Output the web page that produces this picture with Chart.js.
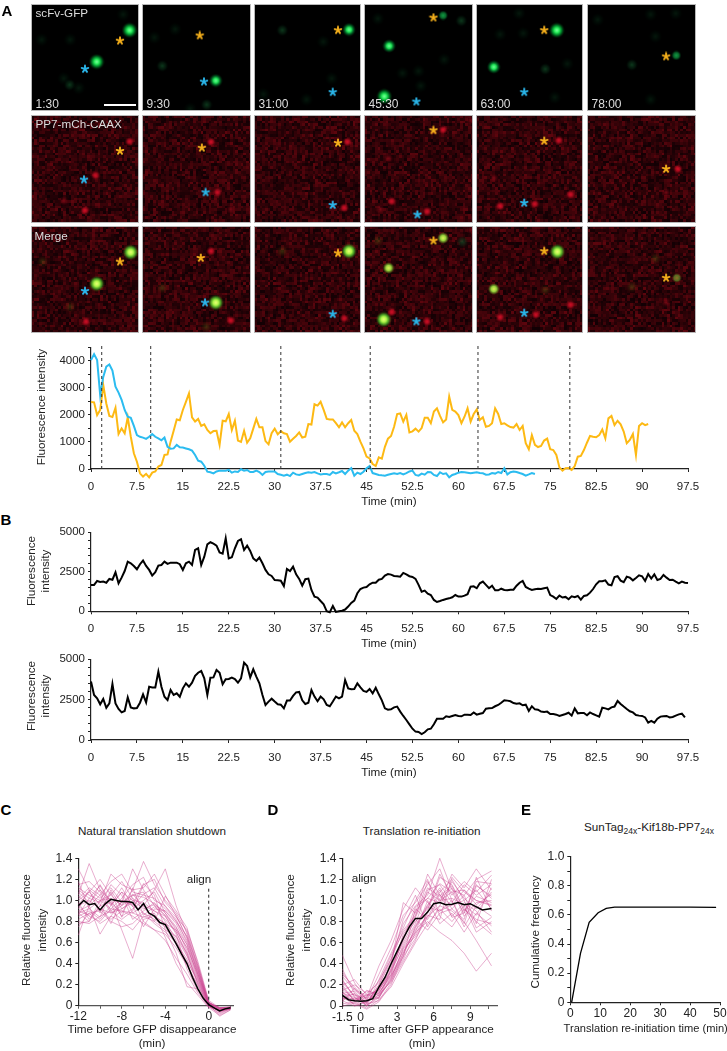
<!DOCTYPE html>
<html>
<head>
<meta charset="utf-8">
<title>Translation traces</title>
<script src="https://cdn.jsdelivr.net/npm/chart.js@4"></script>
<style>
  html, body { margin: 0; padding: 0; background: #fff; }
  #page { position: relative; width: 727px; height: 1051px; overflow: hidden; font-family: "Liberation Sans", Arial, sans-serif; color: #222; }
  #page canvas { position: absolute; }
  .txt { position: absolute; white-space: nowrap; font-size: 11.7px; line-height: 1; z-index: 5; }
  .txt sub { font-size: 8.5px; vertical-align: -3px; line-height: 0; }
  .letter { font-weight: bold; font-size: 15px; color: #000; }
</style>
</head>
<body>
<div id="page"></div>
<script>
// ---------------- Data ----------------
const sampleStep = 0.5;

const yellowTrace = [2470,2460,1990,2180,3100,2420,1960,1920,2260,1290,1500,1320,1910,1190,580,270,-160,-280,-180,-310,-135,-90,90,150,520,540,1010,1410,1830,1800,2180,2480,2790,1910,1750,1850,1590,1650,1440,1320,1400,1410,890,1780,1760,2030,1440,1780,1050,1000,1410,970,1130,1490,1850,1540,1540,1030,910,1320,1490,1280,1400,1320,1290,1010,1120,1220,1350,1160,1190,1660,1640,2390,2340,2480,2180,1850,1830,1830,1690,1540,1720,1540,1690,1810,1410,1290,1010,760,455,390,
  185,110,430,380,820,1120,1220,1560,2030,2050,1750,2000,1350,1390,1490,1380,1510,1890,1890,1690,2120,2240,1960,1720,1830,2670,2180,2120,1990,1690,1930,2240,1750,2030,2200,1810,1910,1560,1590,1690,2240,2030,1660,1690,1610,1550,1530,1660,1440,1590,950,730,1250,890,810,850,1050,1120,730,700,520,60,-60,25,35,-35,110,455,480,700,970,1220,1190,1170,1250,1460,1130,1870,1960,1620,1780,1650,1380,950,1070,1290,520,1590,1690,1620,1660];

const blueTrace = [4020,4240,4020,2730,3400,3780,3860,3630,3040,2820,2550,2180,1930,1890,1590,1250,1190,1160,1110,1190,1290,1190,1130,1060,1160,820,750,760,890,800,790,760,730,680,520,310,270,120,-100,-120,-160,-90,-60,-60,-60,-35,-135,-90,-110,-10,-60,-35,-110,-110,-60,-110,-220,-110,-90,-90,-90,-185,-210,-245,-210,-260,-135,-200,-220,-185,-150,-120,-135,-110,-160,-200,-185,-185,-220,-110,-160,-120,-75,-185,-60,35,-245,-135,-185,-100,25,110,
  -150,-185,-220,-235,-245,-210,-185,-160,-185,-150,-200,-150,-90,-60,-220,-245,-170,-210,-110,-120,-220,-260,-120,-185,-160,-310,-220,-185,-135,-110,-120,-135,-160,-135,-120,-150,-160,-210,-200,-150,-170,-110,-150,30,-200,-120,-90,-110,-150,-185,-245,-200,-150,-185];

const frameTimes = [1.75, 9.75, 31, 45.6, 63.2, 78.2];

const traceB1 = [1670,1670,1920,1860,1880,1810,2050,2000,2470,1770,2130,2550,3140,3040,2870,2660,2980,3210,2870,2620,2260,2470,2890,2930,3140,3000,3080,3080,3080,2980,2620,3040,3140,2930,3880,3990,2930,3460,4240,4370,4280,4160,3730,3650,4620,3350,3420,3990,4450,4560,3880,4160,3820,3350,3190,3400,3040,2620,2340,2240,1980,1960,1940,1600,2680,2550,2830,2340,2050,1620,2030,2070,1350,930,870,650,440,0,-60,340,-40,0,40,110,300,530,680,1140,1410,1500,1540,1710,
  1810,1810,2000,2050,2260,2360,2320,2240,2220,2190,2430,2340,2220,2170,2050,1670,1240,1310,1120,1030,720,590,650,720,780,820,890,1030,930,930,990,1080,1560,1580,1460,1770,1880,1670,1460,1620,1330,1330,1430,1350,1330,1370,1370,1620,1810,1920,1540,1430,1350,1390,1430,1410,1460,1500,1030,930,780,990,870,910,760,950,890,970,740,970,1010,1180,1410,1710,1900,1900,1960,1690,1650,2170,2220,1940,1840,2190,2130,1960,2110,2280,2220,1920,2360,2070,2340,1980,2050,2300,2130,1980,2000,1880,1770,1880,1810,1790];

const traceB2 = [3620,2790,2580,2210,2540,2000,2270,3470,2270,1920,1710,1800,2640,2020,1960,1980,2310,2830,2330,3300,3260,3260,4230,3300,2680,2480,3100,2790,2890,2680,3200,3510,3300,3550,3970,4170,4280,3820,2790,3860,3880,4340,4170,3450,3760,3780,3860,3780,3550,3820,4790,4590,3880,4380,3930,3510,2790,2170,2380,2560,2380,2210,2190,1960,2440,2440,2730,2950,2980,2460,2230,2310,3100,2690,2400,2690,2520,2170,2090,2380,2690,2580,2690,3720,3200,3140,3160,3510,3260,3040,2980,3160,
  2890,3240,2830,2460,1960,1880,1900,2020,2070,1760,1490,1240,970,700,520,500,370,480,660,700,970,1320,1320,1320,1470,1430,1490,1550,1490,1470,1570,1570,1550,1710,1570,1630,1670,1940,1960,1980,2090,2170,2310,2460,2440,2400,2290,2250,2270,2150,2190,1800,2090,1900,1880,1760,1740,1760,1610,1610,1570,1490,1550,1610,1690,1510,1960,1650,1670,1670,1530,1710,1610,1530,1450,2000,1960,1900,2020,2070,2420,2230,2070,1920,1780,1710,1550,1510,1490,1400,1070,1180,1070,1320,1450,1470,1490,1400,1430,1510,1590,1630,1400];

const timeTicks = [0,7.5,15,22.5,30,37.5,45,52.5,60,67.5,75,82.5,90,97.5];
const timeLabels = ["0","7.5","15","22.5","30","37.5","45","52.5","60","67.5","75","82.5","90","97.5"];
const yTicksA = [0,500,1000,1500,2000,2500,3000,3500,4000,4500];
const yLabelsA = ["0","","1000","","2000","","3000","","4000",""];
const yTicksB = [0,500,1000,1500,2000,2500,3000,3500,4000,4500,5000];
const yLabelsB = ["0","","","","","2500","","","","","5000"];

// panel C: single cells are read every minute, the mean every half minute
const timesC = [-12,-11,-10,-9,-8,-7,-6,-5,-4,-3,-2,-1,0,1,2];
const cellsC = [
  [.67,.95,1.05,.88,.92,1.00,.98,.90,.85,.70,.48,.22,.02,-.05,-.03],
  [1.30,1.10,1.02,1.12,.98,1.05,1.03,.97,.88,.72,.55,.30,.03,-.02,-.02],
  [1.05,1.35,1.10,.95,1.08,1.00,.92,.96,.80,.62,.40,.18,.01,-.06,-.02],
  [.80,.78,.85,.90,.98,1.30,1.10,.95,.90,.78,.58,.32,.02,-.03,-.02],
  [.95,.85,.80,.92,.90,.85,.78,.72,.62,.45,.30,.12,-.01,-.04,-.03],
  [1.00,1.08,1.20,1.05,.95,1.10,1.12,1.25,1.05,.85,.65,.35,.03,-.02,-.01],
  [.90,.95,.68,.85,.80,.72,.85,.80,.72,.50,.18,.16,0,-.08,-.03],
  [1.10,1.02,.98,1.25,1.15,1.10,1.37,1.15,1.00,.88,.70,.38,.04,-.04,-.02],
  [.88,.92,1.00,1.05,1.18,1.02,.95,1.10,1.30,.95,.68,.36,.02,-.03,-.03],
  [.82,.88,.90,.80,.75,.78,.88,.82,.75,.58,.42,.24,.01,-.10,-.04],
  [.78,.80,.95,.98,.72,.45,.82,.85,.78,.65,.47,.25,.01,-.04,-.02],
  [1.02,1.12,1.05,1.18,1.25,1.08,1.05,1.02,.92,.82,.60,.33,.03,-.02,-.02],
  [.95,1.00,.92,.88,.95,1.02,.80,.72,.68,.55,.38,.20,0,-.05,-.02],
  [1.08,.98,1.10,1.00,.85,.92,1.00,1.08,.88,.75,.52,.28,.02,-.03,-.01],
  [.85,.90,.82,.95,1.08,.88,.95,.90,.82,.70,.50,.26,.01,-.06,-.03],
  [1.12,1.05,1.00,.92,1.02,1.15,1.22,1.00,.95,.80,.62,.34,.02,-.02,-.02],
  [.92,1.10,.88,1.10,.92,.98,.88,.78,.70,.60,.44,.22,0,-.04,-.03],
  [.98,.82,.95,1.15,1.05,.82,.90,.98,.85,.68,.35,.14,-.01,-.05,-.03],
  [1.04,.96,1.15,.98,.88,1.05,1.08,.85,.78,.72,.55,.30,.02,-.02,-.02],
  [.75,.88,.78,.85,1.00,.95,.75,.92,.90,.80,.66,.38,.03,-.03,-.02],
  [1.15,1.18,1.08,.90,.82,.90,1.15,1.20,.98,.86,.64,.30,.01,-.05,-.02],
  [.90,.86,.92,.82,.90,.88,.84,.88,.65,.40,.22,.10,-.02,-.09,-.04],
  [.86,1.02,1.14,.96,1.12,.94,1.06,1.12,.94,.84,.72,.42,.05,-.02,-.02],
  [1.18,.92,.84,1.08,.84,1.12,.86,.94,.86,.74,.58,.27,.02,-.04,-.03],
  [.96,1.08,.96,.78,1.00,.96,1.16,1.05,.72,.66,.50,.20,-.01,-.07,-.03],
  [.88,.80,1.00,1.02,.96,1.06,.94,.80,1.04,.90,.74,.40,.03,-.03,-.02]
];
const meanTimesC = [-12,-11.5,-11,-10.5,-10,-9.5,-9,-8.5,-8,-7.5,-7,-6.5,-6,-5.5,-5,-4.5,-4,-3.5,-3,-2.5,-2,-1.5,-1,-.5,0,.5,1,1.5,2];
const meanC = [.95,1.0,.96,.97,.91,.97,1.01,1.0,.99,.99,.98,.91,.97,.88,.85,.79,.77,.68,.59,.49,.4,.27,.16,.07,.01,-.02,-.05,-.03,-.02];
const xTicksC = [-12,-10,-8,-6,-4,-2,0,2];
const xLabelsC = ["-12","","-8","","-4","","0",""];
const yTicksRel = [0,.2,.4,.6,.8,1,1.2,1.4];
const yLabelsRel = ["0","0.2","0.4","0.6","0.8","1.0","1.2","1.4"];

const timesD = [-1.5,-.5,.5,1.5,2.5,3.5,4.5,5.5,6.5,7.5,8.5,9.5,10.75];
const cellsD = [
  [.48,.22,.05,.12,.28,.50,.72,.85,.95,.90,.80,.62,.38],
  [.35,.12,.03,.20,.45,.78,.95,1.05,1.40,1.10,1.05,1.20,1.28],
  [.25,.08,.00,.08,.25,.55,.70,.80,.70,.62,.50,.33,.50],
  [.18,.05,.10,.15,.40,.98,.88,1.25,1.05,.95,1.10,1.00,.95],
  [.12,.14,.02,.05,.22,.42,.62,.90,1.22,1.15,.92,.82,.78],
  [.30,.18,.06,.10,.35,.62,.90,1.02,.98,1.25,1.12,1.30,1.10],
  [.08,.02,-.03,.04,.20,.48,.75,.95,1.10,.85,.98,.90,.70],
  [.15,.20,.12,.22,.48,.70,.85,1.18,1.00,1.08,.88,1.15,1.02],
  [.05,.00,.04,.18,.38,.60,.82,.72,.88,.92,1.05,.78,1.20],
  [.22,.10,.08,.38,.62,.92,1.12,.98,.90,1.00,.75,.95,.85],
  [.10,.06,.14,.12,.30,.52,.68,.88,1.08,1.20,1.00,1.10,.92],
  [.02,.04,-.02,.06,.18,.40,.60,.78,.92,.80,.95,.70,.80],
  [.20,.25,.10,.15,.32,.58,.78,1.10,1.15,.98,1.15,1.05,1.15],
  [.14,.00,.05,.08,.26,.46,.92,.82,1.02,1.12,.85,.98,1.00],
  [.06,.12,.00,.25,.50,.74,1.00,1.20,.85,.75,.92,.80,.68],
  [.28,.15,.07,.14,.36,.66,.80,.92,1.25,1.05,1.18,1.08,1.24],
  [.00,.03,.15,.10,.24,.44,.70,1.00,.78,.88,.70,.88,.76],
  [.12,.08,.02,.20,.42,.82,1.05,.75,.95,1.18,1.02,.92,1.08],
  [.16,.06,.11,.07,.34,.56,.76,.96,1.12,.92,.82,1.22,.90],
  [.04,.17,.03,.16,.30,.68,.84,1.08,1.00,1.02,.96,.86,1.12],
  [.24,.09,.01,.09,.27,.54,.66,.86,.82,1.22,1.08,1.00,.96],
  [.09,.02,.06,.30,.55,.86,.98,1.15,1.30,1.00,.78,1.14,1.04],
  [.20,.04,.08,.17,.33,.64,.94,1.02,1.16,1.08,1.10,.96,1.06],
  [.10,.11,.00,.11,.23,.50,.74,.94,.90,.96,1.00,.74,.84],
  [.32,.16,.09,.24,.44,.72,.86,1.12,1.04,1.14,.90,1.04,.98],
  [.07,.07,.04,.13,.29,.47,.64,.84,1.06,.84,.88,1.18,1.16]
];
const meanTimesD = [-1.5,-1,-.5,0,.5,1,1.5,2,2.5,3,3.5,4,4.5,5,5.5,6,6.5,7,7.5,8,8.5,9,9.5,10,10.75];
const meanD = [.10,.06,.05,.045,.05,.07,.18,.27,.4,.52,.64,.75,.83,.83,.89,.97,.98,.96,.965,.98,.96,.97,.94,.91,.925];
const xTicksD = [-1.5,0,1.5,3,4.5,6,7.5,9,10.5];
const xLabelsD = ["-1.5","0","","3","","6","","9",""];

const timesE = [.45,3.4,6.3,9.3,12,14.8,20,30,40,48.7];
const cumulativeE = [0,.336,.549,.615,.645,.654,.654,.654,.654,.652];
const xTicksE = [0,10,20,30,40,50];
const xLabelsE = ["0","10","20","30","40","50"];
const yTicksE = [0,.1,.2,.3,.4,.5,.6,.7,.8,.9,1];
const yLabelsE = ["0","","0.2","","0.4","","0.6","","0.8","","1.0"];

// microscopy frames: spots are [x, y, kind] in percent of the frame
const frameLabels = ["1:30","9:30","31:00","45:30","63:00","78:00"];
const gfpSpots = [
  [[92,24,"G"],[61,54,"G"],[35.5,76,"d"],[9,33,"f"],[36,33,"f"],[86,9,"f"],[44,79,"f"],[30,70,"f"]],
  [[68,72,"g"],[18,58,"d"],[10.6,31,"f"],[59.5,95,"d"],[44,99,"f"],[30,23,"f"]],
  [[89.5,23.5,"g"],[26,24,"d"],[73,70,"f"],[65,35,"f"],[8,85,"f"],[49,90,"f"]],
  [[73,10,"m"],[90,15,"d"],[22.5,39,"g"],[18,87,"G"],[12,13,"f"],[52,77,"f"],[74,52,"f"],[50,63,"f"],[35,65,"f"]],
  [[76,24,"G"],[16,59,"g"],[40,8,"f"],[65,61,"d"],[86,56,"f"],[22,28,"f"],[44,27,"f"],[74,88,"f"]],
  [[82.5,48,"m"],[63,30,"f"],[41,57,"d"],[58.5,90,"f"],[82,8,"f"],[58.5,9,"f"],[9,14,"f"]]
];
const mchSpots = [
  [[92,24,"R"],[60,56,"R"],[50,89,"R"],[30,80,"r"]],
  [[63.5,24.5,"R"],[69.5,72,"R"],[82,88,"r"]],
  [[88,24.5,"R"],[85,86.5,"R"]],
  [[73,13,"R"],[22,40,"r"],[25,80.5,"R"],[14,88,"r"],[58,90,"R"],[99,4,"r"]],
  [[78,23,"R"],[16,58.5,"r"],[89,74,"R"],[22,85,"R"],[55,83,"R"]],
  [[84,50,"R"],[73,72,"r"]]
];
const mergeSpots = [
  [[93,24,"Y"],[61,54,"Y"],[51,90,"R"],[36,76,"o"],[10,33,"o"]],
  [[63.5,23,"R"],[68,72,"Y"],[82,89,"R"],[18,58,"o"],[59,95,"o"]],
  [[89.5,23,"Y"],[85,87,"R"],[26,23,"o"]],
  [[73,10.5,"y"],[91,14,"d"],[22,39,"y"],[17.5,88,"Y"],[25,81,"R"],[58,90,"R"],[12,13,"o"],[99,3,"r"]],
  [[76.5,23.5,"Y"],[16,59,"y"],[89,74,"R"],[22,86,"R"],[56,83.5,"R"],[65,60,"o"]],
  [[83,48.5,"a"],[73,72,"r"],[41,57,"o"],[63,30,"o"]]
];
const orangeStars = [
  [[83,34],[53,29],[79,24],[64,12],[64,24],[73,49]],
  [[83,33],[55,30],[79,25.5],[64,13.5],[64,23.5],[73,50]],
  [[83,33],[54,29.5],[79,25],[64,13],[64,23],[73,48.5]]
];
const blueStars = [
  [[50,61],[57,73],[74,83],[48,92],[45,83]],
  [[49,60],[58.5,72],[74,84],[49,93],[45,82]],
  [[50,61],[58,72],[74,83],[48,90],[45,82]]
];
const grain = [.2,.55,.35,.8,.15,.45,.65,.3,.95,.25,.5,.1,.7,.4,.6,.22,.85,.33,.52,.12,.75,.42,.28,.62,1,.18,.48,.38,.68,.08,.58,.78,.05,.36,.9,.27,.44,.16,.72,.31,.56,.09,.66,.24,.47,.83,.14,.39,.6,.2,.5,.34,.76,.11,.43,.29,.64,.19,.53,.07,.87];

// ---------------- Helpers ----------------
const page = document.getElementById("page");
const font = { family: '"Liberation Sans", Arial, sans-serif', size: 11.5 };

function text(str, x, y, opts) {
  opts = opts || {};
  let el = document.createElement("div");
  el.className = "txt " + (opts.cls || "");
  el.innerHTML = str;
  el.style.left = x + "px";
  el.style.top = y + "px";
  if (opts.color) el.style.color = opts.color;
  if (opts.size) el.style.fontSize = opts.size + "px";
  let anchor = opts.left ? "translate(0,-50%)" : "translate(-50%,-50%)";
  el.style.transform = anchor + (opts.rotate ? " rotate(-90deg)" : "");
  page.appendChild(el);
}

function addCanvas(x, y, w, h) {
  let c = document.createElement("canvas");
  c.width = w;
  c.height = h;
  c.style.left = x + "px";
  c.style.top = y + "px";
  page.appendChild(c);
  return c;
}

function points(xs, ys) {
  return ys.map((v, i) => ({ x: xs[i], y: v }));
}

function traceLine(values, color, width) {
  return {
    data: values.map((v, i) => ({ x: i * sampleStep, y: v })),
    borderColor: color, borderWidth: width, pointRadius: 0, tension: 0, clip: false
  };
}

function dashLine(t, top, color) {
  return {
    data: [{ x: t, y: 0 }, { x: t, y: top }],
    borderColor: color || "#222", borderWidth: 1, borderDash: [3, 3], pointRadius: 0, clip: false
  };
}

// tick labels at the ends of an axis must not push the plot area in
function noLabelPadding(s) {
  s.paddingLeft = s.paddingRight = s.paddingTop = s.paddingBottom = 0;
}

// plot area is pinned to given pixels so that all the panels line up like in the figure
function plot(box, cfg) {
  let x0 = Math.floor(box.left - 45), y0 = Math.floor(box.top - 8);
  let x1 = Math.min(Math.ceil(box.right + 15), 727), y1 = Math.ceil(box.bottom + 28);
  let canvas = addCanvas(x0, y0, x1 - x0, y1 - y0);
  let tickFont = { family: font.family, size: cfg.tickSize || font.size };
  let scale = (ticks, labels, min, max, pad, color, afterFit) => ({
    type: "linear", min: min, max: max,
    afterBuildTicks: (s) => { s.ticks = ticks.map((v) => ({ value: v })); },
    afterFit: (s) => { afterFit(s); noLabelPadding(s); },
    border: { color: color, width: 1.2 },
    grid: { drawOnChartArea: false, drawTicks: true, tickLength: 3, tickColor: color, tickWidth: 1 },
    ticks: {
      autoSkip: false, maxRotation: 0, minRotation: 0, padding: pad, color: "#222", font: tickFont,
      callback: (v, i) => labels[i]
    }
  });
  return new Chart(canvas, {
    type: "line",
    data: { datasets: cfg.datasets },
    options: {
      responsive: false, animation: false, devicePixelRatio: 1,
      layout: { autoPadding: false, padding: { left: 0, top: box.top - y0, right: x1 - box.right, bottom: 0 } },
      plugins: { legend: { display: false }, tooltip: { enabled: false } },
      scales: {
        x: scale(cfg.xTicks, cfg.xLabels, cfg.xMin, cfg.xMax, cfg.xPad, cfg.xColor || "#222", (s) => { s.height = y1 - box.bottom; }),
        y: scale(cfg.yTicks, cfg.yLabels, cfg.yMin, cfg.yMax, 3, "#222", (s) => { s.width = box.left - x0; })
      }
    }
  });
}

// sprites used as point styles on the microscopy frames
function glow(radius, stops) {
  let c = document.createElement("canvas");
  c.width = c.height = radius * 2;
  let g = c.getContext("2d");
  let grad = g.createRadialGradient(radius, radius, 0, radius, radius, radius);
  stops.forEach((s) => grad.addColorStop(s[0], s[1]));
  g.fillStyle = grad;
  g.fillRect(0, 0, radius * 2, radius * 2);
  return c;
}

function star(color) {
  let c = document.createElement("canvas");
  c.width = c.height = 10;
  let g = c.getContext("2d");
  g.strokeStyle = color;
  g.lineWidth = 1.9;
  g.lineCap = "round";
  for (let i = 0; i < 5; i++) {
    let a = -Math.PI / 2 + (i * 2 * Math.PI) / 5;
    g.beginPath();
    g.moveTo(5, 5);
    g.lineTo(5 + 3.5 * Math.cos(a), 5 + 3.5 * Math.sin(a));
    g.stroke();
  }
  return c;
}

const sprites = {
  G: glow(8, [[0, "rgb(130,255,160)"], [.3, "rgb(40,240,90)"], [.6, "rgba(0,160,50,.8)"], [1, "rgba(0,70,20,0)"]]),
  g: glow(7, [[0, "rgb(110,255,150)"], [.35, "rgb(30,225,85)"], [.7, "rgba(0,120,45,.6)"], [1, "rgba(0,60,20,0)"]]),
  m: glow(5, [[0, "rgb(20,160,70)"], [.6, "rgba(10,120,50,.8)"], [1, "rgba(0,60,25,0)"]]),
  d: glow(6, [[0, "rgba(20,90,45,.65)"], [.6, "rgba(12,55,28,.4)"], [1, "rgba(0,30,15,0)"]]),
  f: glow(7, [[0, "rgba(12,55,28,.45)"], [1, "rgba(0,30,15,0)"]]),
  R: glow(5, [[0, "rgb(215,15,40)"], [.45, "rgba(185,12,32,.8)"], [1, "rgba(110,5,15,0)"]]),
  r: glow(5, [[0, "rgba(160,12,28,.7)"], [1, "rgba(100,5,15,0)"]]),
  Y: glow(8, [[0, "rgb(240,255,120)"], [.35, "rgb(170,245,70)"], [.65, "rgba(70,180,40,.8)"], [1, "rgba(60,70,10,0)"]]),
  y: glow(6, [[0, "rgb(225,240,90)"], [.45, "rgb(150,210,60)"], [.75, "rgba(90,120,30,.7)"], [1, "rgba(60,50,10,0)"]]),
  a: glow(5, [[0, "rgb(150,110,40)"], [.6, "rgba(90,130,40,.8)"], [1, "rgba(100,30,10,0)"]]),
  o: glow(6, [[0, "rgba(85,85,20,.55)"], [1, "rgba(70,40,10,0)"]])
};
const orangeSprite = star("#f5b01c");
const blueSprite = star("#2bb6ea");

// grainy camera background, painted under the spots
function backgroundPlugin(kind, seed) {
  return {
    id: "cameraBackground",
    beforeDraw(chart) {
      let g = chart.ctx, w = chart.width, h = chart.height, cell = 2.65;
      g.save();
      g.fillStyle = kind === "gfp" ? "#000" : "#180205";
      g.fillRect(0, 0, w, h);
      if (kind !== "gfp") {
        for (let r = 0; r * cell < h; r++) {
          for (let c = 0; c * cell < w; c++) {
            let v = grain[((c * 37 + r * 101) ^ (c * r * 5 + seed)) % grain.length];
            g.fillStyle = "rgb(" + Math.round(14 + v * 78) + "," + Math.round(v * 5) + "," + Math.round(3 + v * 10) + ")";
            let px = Math.floor(c * cell), py = Math.floor(r * cell);
            g.fillRect(px, py, Math.floor((c + 1) * cell) - px, Math.floor((r + 1) * cell) - py);
          }
        }
      }
      g.restore();
    }
  };
}

function micrograph(x, y, w, h, kind, seed, spots, oStar, bStar) {
  let canvas = addCanvas(x, y, w, h);
  canvas.style.outline = "1px solid #b8b8b8";
  let datasets = [];
  let stars = bStar ? [oStar, bStar] : [oStar];
  stars.forEach((s, i) => {
    datasets.push({ data: [{ x: s[0], y: s[1] }], pointStyle: i ? blueSprite : orangeSprite, pointRadius: 5, showLine: false });
  });
  datasets.push({
    data: spots.map((s) => ({ x: s[0], y: s[1] })),
    pointStyle: spots.map((s) => sprites[s[2]]),
    pointRadius: 5, showLine: false
  });
  new Chart(canvas, {
    type: "scatter",
    data: { datasets: datasets },
    options: {
      responsive: false, animation: false, devicePixelRatio: 1,
      layout: { autoPadding: false, padding: 0 },
      plugins: { legend: { display: false }, tooltip: { enabled: false } },
      scales: {
        x: { display: false, min: 0, max: 100 },
        y: { display: false, min: 0, max: 100, reverse: true }
      }
    },
    plugins: [backgroundPlugin(kind, seed)]
  });
}

// ---------------- Panel A, frames ----------------
const colLeft = [32, 143, 255, 365, 477, 588];
const colWidth = [106, 107, 105, 107, 105, 107];
const rowTop = [5, 116, 227];
const rowHeight = [105, 106, 105];
const rowKind = ["gfp", "mch", "merge"];
const rowSpots = [gfpSpots, mchSpots, mergeSpots];

rowTop.forEach((top, r) => {
  colLeft.forEach((left, c) => {
    micrograph(left, top, colWidth[c], rowHeight[r], rowKind[r], (r * 19 + c * 11) % 61,
      rowSpots[r][c], orangeStars[r][c], blueStars[r][c]);
  });
});

frameLabels.forEach((t, c) => {
  text(t, colLeft[c] + 3.5, 103.5, { left: true, color: "#ddd", size: 12 });
});
text("scFv-GFP", 35.5, 13, { left: true, color: "#ddd" });
text("PP7-mCh-CAAX", 35.5, 124, { left: true, color: "#ddd" });
text("Merge", 34.5, 236, { left: true, color: "#ddd" });

let scaleBar = document.createElement("div");
scaleBar.style.cssText = "position:absolute;left:104px;top:104px;width:32px;height:1.5px;background:#fff;z-index:5";
page.appendChild(scaleBar);

// ---------------- Panel A, trace ----------------
plot({ left: 91, right: 688, top: 347.1, bottom: 469 }, {
  xTicks: timeTicks, xLabels: timeLabels, xMin: 0, xMax: 97.5, xPad: 8,
  yTicks: yTicksA, yLabels: yLabelsA, yMin: 0, yMax: 4500,
  datasets: frameTimes.map((t) => dashLine(t, 4620, "#333")).concat([
    traceLine(blueTrace, "#2bbcf0", 2),
    traceLine(yellowTrace, "#fdb913", 2)
  ])
});
text("Fluorescence intensity", 40.7, 406.7, { rotate: true });
text("Time (min)", 389, 501);

// ---------------- Panel B ----------------
plot({ left: 91, right: 688, top: 532.3, bottom: 611.3 }, {
  xTicks: timeTicks, xLabels: timeLabels, xMin: 0, xMax: 97.5, xPad: 8,
  yTicks: yTicksB, yLabels: yLabelsB, yMin: 0, yMax: 5000,
  datasets: [traceLine(traceB1, "#000", 2)]
});
plot({ left: 91, right: 688, top: 659.3, bottom: 740 }, {
  xTicks: timeTicks, xLabels: timeLabels, xMin: 0, xMax: 97.5, xPad: 8,
  yTicks: yTicksB, yLabels: yLabelsB, yMin: 0, yMax: 5000,
  datasets: [traceLine(traceB2, "#000", 2)]
});
text("Fluorescence", 30.7, 571, { rotate: true });
text("intensity", 45, 571, { rotate: true });
text("Time (min)", 389, 643);
text("Fluorescence", 30.7, 696, { rotate: true });
text("intensity", 45, 696, { rotate: true });
text("Time (min)", 389, 772);

// ---------------- Panels C, D, E ----------------
const pink = "rgba(203,70,145,.55)";

plot({ left: 78.3, right: 233.4, top: 858.3, bottom: 1005.7 }, {
  xTicks: xTicksC, xLabels: xLabelsC, xMin: -12, xMax: 2.27, xPad: 1, xColor: "#555", tickSize: 12,
  yTicks: yTicksRel, yLabels: yLabelsRel, yMin: 0, yMax: 1.4,
  datasets: [
    { data: points(meanTimesC, meanC), borderColor: "#000", borderWidth: 1.5, pointRadius: 0, clip: false },
    dashLine(0, 1.12)
  ].concat(cellsC.map((c) => ({ data: points(timesC, c), borderColor: pink, borderWidth: .8, pointRadius: 0, clip: false })))
});
text("Natural translation shutdown", 152, 830.7);
text("align", 199, 879);
text("Relative fluorescence", 26, 930, { rotate: true });
text("intensity", 41.7, 930, { rotate: true });
text("Time before GFP disappearance", 152, 1029);
text("(min)", 152, 1043);

plot({ left: 342.4, right: 497, top: 858.3, bottom: 1006 }, {
  xTicks: xTicksD, xLabels: xLabelsD, xMin: -1.5, xMax: 11.2, xPad: 1, xColor: "#555", tickSize: 12,
  yTicks: yTicksRel, yLabels: yLabelsRel, yMin: 0, yMax: 1.4,
  datasets: [
    { data: points(meanTimesD, meanD), borderColor: "#000", borderWidth: 1.5, pointRadius: 0, clip: false },
    dashLine(0, 1.11)
  ].concat(cellsD.map((c) => ({ data: points(timesD, c), borderColor: pink, borderWidth: .8, pointRadius: 0, clip: false })))
});
text("Translation re-initiation", 421.7, 830.7);
text("align", 364, 878);
text("Relative fluorescence", 290, 930, { rotate: true });
text("intensity", 305.7, 930, { rotate: true });
text("Time after GFP appearance", 421.7, 1029);
text("(min)", 422, 1043);

plot({ left: 570.3, right: 720, top: 856.7, bottom: 1002.3 }, {
  xTicks: xTicksE, xLabels: xLabelsE, xMin: 0, xMax: 50, xPad: 1, tickSize: 12,
  yTicks: yTicksE, yLabels: yLabelsE, yMin: 0, yMax: 1,
  datasets: [{ data: points(timesE, cumulativeE), borderColor: "#000", borderWidth: 1.3, pointRadius: 0, clip: false }]
});
text("SunTag<sub>24x</sub>-Kif18b-PP7<sub>24x</sub>", 649, 826.7);
text("Cumulative frequency", 535, 931.7, { rotate: true });
text("Translation re-initiation time (min)", 645.7, 1029, { size: 11.1 });

// ---------------- Panel letters ----------------
text("A", 7, 10, { cls: "letter" });
text("B", 6, 519, { cls: "letter" });
text("C", 6, 809, { cls: "letter" });
text("D", 273, 809, { cls: "letter" });
text("E", 526, 809, { cls: "letter" });
</script>
</body>
</html>
